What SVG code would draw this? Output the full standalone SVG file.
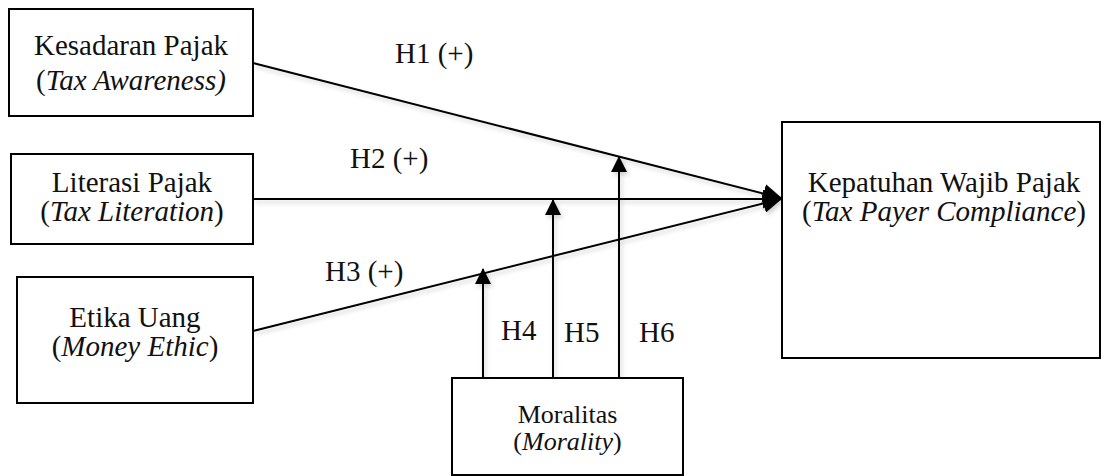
<svg xmlns="http://www.w3.org/2000/svg" width="1101" height="476" viewBox="0 0 1101 476">
<style>
.box{fill:#fff;stroke:#000;stroke-width:2}
.t{font-family:"Liberation Serif","Times New Roman",serif;font-size:29px;fill:#111;text-anchor:middle}
.l{font-family:"Liberation Serif","Times New Roman",serif;font-size:29px;fill:#111}
.i{font-style:italic}
.c{stroke:#000;stroke-width:2;fill:none}
</style>
<defs>
<marker id="ah" markerUnits="userSpaceOnUse" viewBox="0 0 16 16" markerWidth="16" markerHeight="16" refX="15" refY="8" orient="auto">
<path d="M0,0 L16,8 L0,16 z" fill="#000"/>
</marker>
<marker id="ahb" markerUnits="userSpaceOnUse" viewBox="0 0 18 18" markerWidth="19" markerHeight="19" refX="17" refY="9" orient="auto">
<path d="M0,0 L18,9 L0,18 z" fill="#000"/>
</marker>
<filter id="sh" x="-5%" y="-50%" width="110%" height="200%">
<feDropShadow dx="2" dy="3" stdDeviation="2" flood-color="#000" flood-opacity="0.18"/>
</filter>
</defs>
<g id="connectors" filter="url(#sh)">
<line class="c" x1="253" y1="63" x2="781" y2="198" marker-end="url(#ahb)"/>
<line class="c" x1="253" y1="199" x2="781" y2="199" marker-end="url(#ahb)"/>
<line class="c" x1="253" y1="331" x2="781" y2="199" marker-end="url(#ahb)"/>
<line class="c" x1="483" y1="378" x2="483" y2="269" marker-end="url(#ah)"/>
<line class="c" x1="553" y1="378" x2="553" y2="200" marker-end="url(#ah)"/>
<line class="c" x1="619" y1="378" x2="619" y2="157" marker-end="url(#ah)"/>
</g>
<g id="labels">
<text class="l" x="395" y="63">H1 (+)</text>
<text class="l" x="350" y="168">H2 (+)</text>
<text class="l" x="325" y="281">H3 (+)</text>
<text class="l" x="501" y="340">H4</text>
<text class="l" x="564" y="342">H5</text>
<text class="l" x="639" y="342">H6</text>
</g>
<g id="kesadaran">
<rect class="box" x="9" y="9" width="244" height="107"/>
<text class="t" x="131" y="55">Kesadaran Pajak</text>
<text class="t" x="131" y="90">(<tspan class="i">Tax Awareness)</tspan></text>
</g>
<g id="literasi">
<rect class="box" x="11" y="154" width="242" height="90"/>
<text class="t" x="132" y="192">Literasi Pajak</text>
<text class="t" x="132" y="221">(<tspan class="i">Tax Literation</tspan>)</text>
</g>
<g id="etika">
<rect class="box" x="17" y="277" width="236" height="126"/>
<text class="t" x="135" y="327">Etika Uang</text>
<text class="t" x="135" y="356">(<tspan class="i">Money Ethic</tspan>)</text>
</g>
<g id="kepatuhan">
<rect class="box" x="782" y="122" width="318" height="236"/>
<text class="t" x="944" y="192">Kepatuhan Wajib Pajak</text>
<text class="t" x="944" y="221">(<tspan class="i">Tax Payer Compliance</tspan>)</text>
</g>
<g id="moralitas">
<rect class="box" x="452" y="378" width="231" height="97"/>
<text class="t" x="567.5" y="423" style="font-size:26px">Moralitas</text>
<text class="t" x="567.5" y="450" style="font-size:26px">(<tspan class="i">Morality</tspan>)</text>
</g>
</svg>
